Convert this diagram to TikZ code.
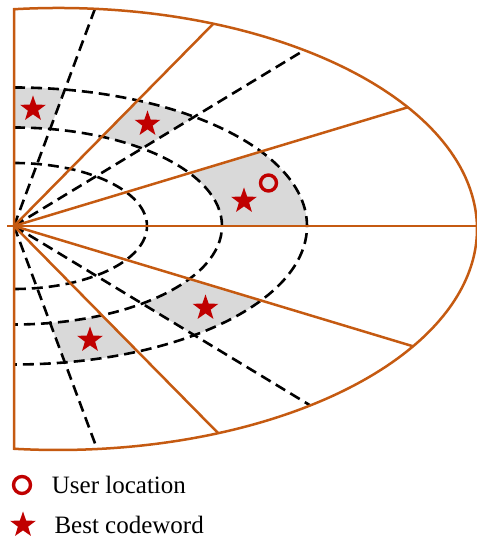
\documentclass[tikz,border=0pt]{standalone}
\usepackage{fontspec}
\setmainfont{Liberation Serif}
\usetikzlibrary{shapes.geometric,calc}
\definecolor{orng}{RGB}{197,90,17}
\definecolor{strred}{RGB}{192,0,0}
\definecolor{cellgray}{RGB}{217,217,217}
\newcommand{\ringcell}[2]{%
  \fill[cell] ($(O)+(#1:208pt and 98.5pt)$) -- ($(O)+(#1:293pt and 138.5pt)$)
    arc[start angle=#1, end angle=#2, x radius=293pt, y radius=138.5pt]
    -- ($(O)+(#2:208pt and 98.5pt)$)
    arc[start angle=#2, end angle=#1, x radius=208pt, y radius=98.5pt] -- cycle;}
\begin{document}
\begin{tikzpicture}[x=1pt,y=1pt,
  orangeline/.style={draw=orng,line width=2.5pt},
  dashline/.style={draw=black,line width=2.6pt,dash pattern=on 11pt off 6pt},
  cell/.style={fill=cellgray},
  starmark/.style={star,star points=5,star point ratio=2.5,fill=strred,minimum size=27pt,inner sep=0pt},
  ringmark/.style={circle,draw=strred,line width=3.4pt,minimum size=16pt,inner sep=0pt},
  lbl/.style={font=\fontsize{25}{30}\selectfont,anchor=base west,inner sep=0pt}]
\useasboundingbox (0,0) rectangle (477,544);
\coordinate (O) at (14,318);
\coordinate (C) at (58,315);
% grey cells
\ringcell{80}{90}
\ringcell{52}{65}
\ringcell{0}{32.5}
\ringcell{-52}{-32.5}
\ringcell{-80}{-65}
% dashed ellipses
\draw[dashline] ($(O)+(0,63)$) arc[start angle=90,end angle=-90,x radius=133pt,y radius=63pt];
\draw[dashline] ($(O)+(0,98.5)$) arc[start angle=90,end angle=-90,x radius=208pt,y radius=98.5pt];
\draw[dashline] ($(O)+(0,138.5)$) arc[start angle=90,end angle=-90,x radius=293pt,y radius=138.5pt];
% radial lines, clipped to the outer shape
\begin{scope}
  \clip (14,534.78) arc[start angle=96.03, end angle=-96.03, x radius=419pt, y radius=221pt] -- cycle;
  \foreach \t in {80,52,-52,-80}
    \draw[dashline] (O) -- ($(O)+(\t:634pt and 300pt)$);
  \foreach \t in {65,32.5,0,-32.5,-65}
    \draw[orangeline] (O) -- ($(O)+(\t:634pt and 300pt)$);
\end{scope}
\draw[orangeline] (7,318) -- (O);
% outer shape
\draw[orangeline,line join=miter] (14,534.78) arc[start angle=96.03, end angle=-96.03, x radius=419pt, y radius=221pt] -- cycle;
% markers
\node[starmark] (s1) at (33,435) {};
\node[starmark] (s2) at (147.5,420) {};
\node[starmark] (s3) at (244,343) {};
\node[starmark] (s4) at (205.5,236) {};
\node[starmark] (s5) at (90,204) {};
\node[ringmark] (user) at (268.5,361) {};
% legend
\node[ringmark,minimum size=17pt] (leguser) at (22,59) {};
\node[starmark] (legstar) at (23,19) {};
\node[lbl] (t1) at (51.7,50.7) {User location};
\node[lbl] (t2) at (54.3,10.7) {Best codeword};
\end{tikzpicture}
\end{document}
